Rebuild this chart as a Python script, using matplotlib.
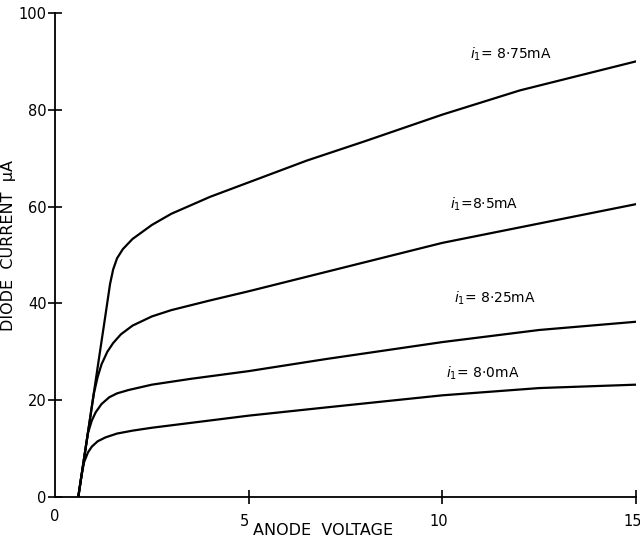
import matplotlib
matplotlib.use("Agg")
import matplotlib.pyplot as plt

# curves: anode voltage vs diode current (uA)
v_875 = [0.6, 0.75, 0.9, 1.1, 1.3, 1.42, 1.5, 1.6, 1.75, 2.0, 2.5, 3.0, 4.0, 5.0, 6.5, 8.0, 10.0, 12.0, 13.5, 15.0]
i_875 = [0, 8, 16, 26.8, 37.5, 44, 47, 49.3, 51.2, 53.3, 56.2, 58.5, 62, 65, 69.5, 73.5, 79, 84, 87, 90]

v_85 = [0.6, 0.75, 0.9, 1.0, 1.1, 1.2, 1.35, 1.5, 1.7, 2.0, 2.5, 3.0, 4.0, 5.0, 7.0, 10.0, 12.5, 15.0]
i_85 = [0, 8, 16, 21.3, 24.8, 27.4, 30.0, 31.8, 33.6, 35.4, 37.3, 38.6, 40.6, 42.5, 46.5, 52.5, 56.5, 60.5]

v_825 = [0.6, 0.75, 0.85, 0.95, 1.05, 1.2, 1.4, 1.6, 1.9, 2.5, 3.5, 5.0, 7.0, 10.0, 12.5, 15.0]
i_825 = [0, 8, 13.2, 15.8, 17.5, 19.2, 20.6, 21.4, 22.1, 23.2, 24.4, 26, 28.5, 32, 34.5, 36.2]

v_80 = [0.6, 0.68, 0.75, 0.85, 0.95, 1.1, 1.3, 1.6, 2.0, 2.5, 3.5, 5.0, 7.0, 10.0, 12.5, 15.0]
i_80 = [0, 4.3, 7.2, 9.2, 10.4, 11.5, 12.3, 13.1, 13.7, 14.3, 15.3, 16.8, 18.5, 21, 22.5, 23.2]

labels = ["$i_1$= 8·75mA", "$i_1$=8·5mA", "$i_1$= 8·25mA", "$i_1$= 8·0mA"]
label_pos = [(10.7, 91.5), (10.2, 60.5), (10.3, 41), (10.1, 25.5)]

y_ticks = [0, 20, 40, 60, 80, 100]
x_ticks = [5, 10, 15]

fig = plt.figure(figsize=(6.4, 5.39), dpi=100)
ax = fig.add_axes([0.086, 0.078, 0.908, 0.898])

for xs, ys in [(v_875, i_875), (v_85, i_85), (v_825, i_825), (v_80, i_80)]:
    ax.plot(xs, ys, color="black", lw=1.6, solid_capstyle="round", solid_joinstyle="round")

for txt, (x, y) in zip(labels, label_pos):
    ax.text(x, y, txt, fontsize=10, color="black", va="center", ha="left")

ax.set_xlim(0, 15)
ax.set_ylim(0, 100)
ax.spines["top"].set_visible(False)
ax.spines["right"].set_visible(False)
ax.spines["left"].set_linewidth(1.3)
ax.spines["bottom"].set_linewidth(1.3)

ax.set_yticks(y_ticks)
ax.set_yticklabels([str(t) for t in y_ticks], fontsize=10.5)
ax.set_xticks(x_ticks)
ax.set_xticklabels([])
ax.tick_params(axis="both", direction="inout", length=10, width=1.2)
ax.tick_params(axis="y", pad=1)

# x tick labels sit a bit left of their ticks in the original
for t in x_ticks:
    ax.text(t - 0.1, -3.5, str(t), fontsize=10.5, ha="center", va="top")
ax.text(0.0, -2.5, "0", fontsize=10.5, ha="center", va="top")

ax.text(5.1, -5.3, "ANODE  VOLTAGE", fontsize=11.5, ha="left", va="top")
ax.set_ylabel("DIODE  CURRENT  μA", fontsize=11.5, labelpad=2)
ax.yaxis.set_label_coords(-0.068, 0.52)

fig.savefig("out.png", dpi=100)
